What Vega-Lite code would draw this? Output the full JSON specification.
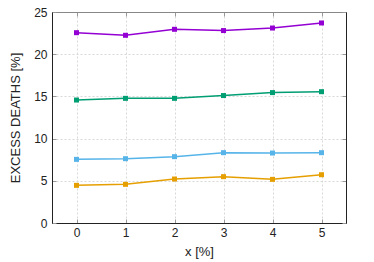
{
  "$schema": "https://vega.github.io/schema/vega-lite/v6.json",
  "width": 294,
  "height": 211,
  "autosize": {"type": "none"},
  "padding": {"left": 52, "top": 12, "right": 28, "bottom": 39},
  "config": {
    "view": {"stroke": "#222", "strokeWidth": 1},
    "font": "Liberation Sans",
    "axis": {"labelFont": "Liberation Sans", "titleFont": "Liberation Sans", "labelFontSize": 12, "titleFontSize": 13, "titleFontWeight": "normal", "labelColor": "#222", "titleColor": "#222"}
  },
  "data": {"values": [
    {"x": 0, "y": 22.55, "s": "a"}, {"x": 1, "y": 22.24, "s": "a"}, {"x": 2, "y": 22.95, "s": "a"}, {"x": 3, "y": 22.8, "s": "a"}, {"x": 4, "y": 23.1, "s": "a"}, {"x": 5, "y": 23.7, "s": "a"},
    {"x": 0, "y": 14.57, "s": "b"}, {"x": 1, "y": 14.77, "s": "b"}, {"x": 2, "y": 14.77, "s": "b"}, {"x": 3, "y": 15.1, "s": "b"}, {"x": 4, "y": 15.45, "s": "b"}, {"x": 5, "y": 15.56, "s": "b"},
    {"x": 0, "y": 7.54, "s": "c"}, {"x": 1, "y": 7.62, "s": "c"}, {"x": 2, "y": 7.86, "s": "c"}, {"x": 3, "y": 8.33, "s": "c"}, {"x": 4, "y": 8.29, "s": "c"}, {"x": 5, "y": 8.33, "s": "c"},
    {"x": 0, "y": 4.46, "s": "d"}, {"x": 1, "y": 4.58, "s": "d"}, {"x": 2, "y": 5.21, "s": "d"}, {"x": 3, "y": 5.49, "s": "d"}, {"x": 4, "y": 5.17, "s": "d"}, {"x": 5, "y": 5.72, "s": "d"}
  ]},
  "resolve": {"axis": {"x": "independent", "y": "independent"}},
  "layer": [
    {
      "mark": {"type": "line", "strokeWidth": 1.5},
      "encoding": {
        "x": {"field": "x", "type": "quantitative", "scale": {"domain": [-0.5, 5.5], "nice": false, "zero": false},
              "axis": {"values": [0,1,2,3,4,5], "title": "x [%]", "format": "d", "grid": true, "gridDash": [2,2], "gridColor": "#d8d8d8", "domainColor": "#222", "tickSize": -4, "tickColor": "#999", "labelPadding": 8, "titlePadding": 7}},
        "y": {"field": "y", "type": "quantitative", "scale": {"domain": [0, 25], "nice": false},
              "axis": {"values": [0,5,10,15,20,25], "title": "EXCESS DEATHS [%]", "grid": true, "gridDash": [2,2], "gridColor": "#d8d8d8", "domainColor": "#222", "tickSize": -4, "tickColor": "#999", "labelPadding": 9, "titlePadding": 11}},
        "color": {"field": "s", "type": "nominal", "scale": {"domain": ["a","b","c","d"], "range": ["#9400d3", "#009e73", "#56b4e9", "#e69f00"]}, "legend": null}
      }
    },
    {
      "mark": {"type": "point", "shape": "square", "filled": true, "size": 25, "opacity": 1},
      "encoding": {
        "x": {"field": "x", "type": "quantitative", "axis": {"orient": "top", "values": [0,1,2,3,4,5], "labels": false, "title": null, "grid": false, "domainColor": "#888", "tickSize": -4, "tickColor": "#999"}},
        "y": {"field": "y", "type": "quantitative", "axis": {"orient": "right", "values": [0,5,10,15,20,25], "labels": false, "title": null, "grid": false, "domainColor": "#222", "tickSize": -4, "tickColor": "#999"}},
        "color": {"field": "s", "type": "nominal", "legend": null}
      }
    }
  ]
}
